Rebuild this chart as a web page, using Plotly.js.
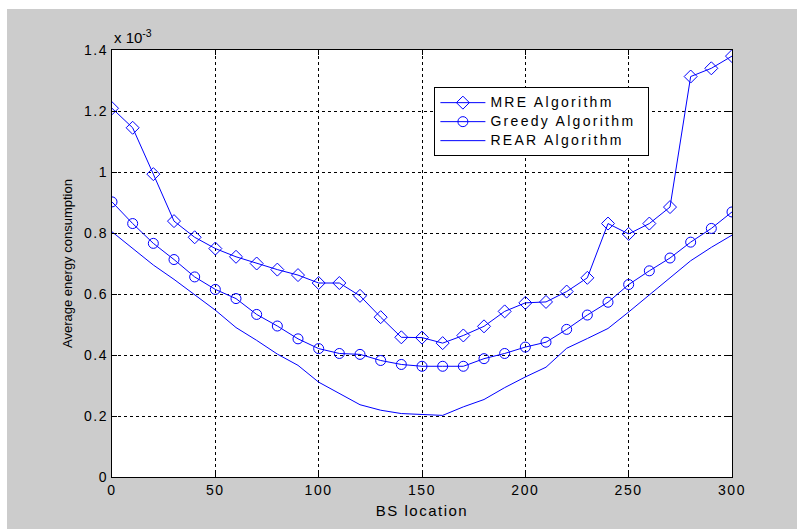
<!DOCTYPE html>
<html>
<head>
<meta charset="utf-8">
<script src="https://cdn.plot.ly/plotly-3.0.1.min.js"></script>
<style>
html,body{margin:0;padding:0;background:#ffffff;width:797px;height:529px;overflow:hidden;}
#chart{position:absolute;left:7px;top:9px;width:790px;height:520px;}
#chart .xtick text, #chart .ytick text{letter-spacing:1.6px;}
#chart .legendtext{letter-spacing:2.3px; font-size:14px !important;}
#chart .legend rect.bg{width:214px;}
#chart .legend .scrollbox{clip-path:none !important;}
#chart .xtitle{letter-spacing:1.5px;}
</style>
</head>
<body>
<div id="chart"></div>
<script>
const bsLocation = [0,10,20,30,40,50,60,70,80,90,100,110,120,130,140,150,160,170,180,190,200,210,220,230,240,250,260,270,280,290,300];
const mreValues = [1.209,1.145,0.993,0.839,0.786,0.749,0.722,0.700,0.680,0.662,0.636,0.636,0.594,0.524,0.458,0.457,0.439,0.464,0.494,0.543,0.571,0.574,0.608,0.653,0.831,0.797,0.831,0.885,1.313,1.340,1.380];
const greedyValues = [0.902,0.831,0.766,0.713,0.656,0.615,0.585,0.533,0.495,0.453,0.421,0.405,0.402,0.382,0.369,0.363,0.363,0.363,0.388,0.405,0.426,0.442,0.484,0.531,0.573,0.631,0.676,0.718,0.770,0.815,0.869];
const rearValues = [0.804,0.749,0.695,0.648,0.599,0.547,0.490,0.448,0.403,0.366,0.311,0.275,0.237,0.219,0.208,0.205,0.202,0.230,0.254,0.293,0.328,0.360,0.422,0.454,0.487,0.541,0.596,0.654,0.709,0.753,0.793];
const xTicks = [0,50,100,150,200,250,300];
const yTicks = [0,0.2,0.4,0.6,0.8,1.0,1.2,1.4];
const yTickLabels = ['0','0.2','0.4','0.6','0.8','1','1.2','1.4'];
const seriesNames = ['MRE Algorithm','Greedy Algorithm','REAR Algorithm'];

const fontFam = '"Liberation Sans", Arial, Helvetica, sans-serif';
const blue = '#0000ff';

const traces = [
  {x: bsLocation, y: mreValues, name: seriesNames[0], mode: 'lines+markers', type: 'scatter',
   line: {color: blue, width: 1}, marker: {symbol: 'diamond-open', size: 10, color: blue, line: {width: 1, color: blue}}},
  {x: bsLocation, y: greedyValues, name: seriesNames[1], mode: 'lines+markers', type: 'scatter',
   line: {color: blue, width: 1}, marker: {symbol: 'circle-open', size: 10, color: blue, line: {width: 1, color: blue}}},
  {x: bsLocation, y: rearValues, name: seriesNames[2], mode: 'lines', type: 'scatter',
   line: {color: blue, width: 1}}
];

const layout = {
  width: 790, height: 520,
  paper_bgcolor: '#cccccc',
  plot_bgcolor: '#ffffff',
  margin: {l: 105, r: 65, t: 41, b: 52, pad: 0},
  font: {family: fontFam, size: 14, color: '#000'},
  showlegend: true,
  legend: {
    x: 0.52, y: 0.913, xanchor: 'left', yanchor: 'top',
    bgcolor: '#ffffff', bordercolor: '#000', borderwidth: 1,
    font: {family: fontFam, size: 12, color: '#000'},
    tracegroupgap: 0, itemwidth: 45
  },
  xaxis: {
    range: [0, 300], tickvals: xTicks, ticktext: xTicks.map(String),
    showgrid: true, gridcolor: '#000', griddash: '3px,3px', gridwidth: 1,
    zeroline: false, showline: true, linecolor: '#000', linewidth: 1, mirror: 'ticks',
    ticks: 'inside', ticklen: 5, tickcolor: '#000',
    tickfont: {family: fontFam, size: 14, color: '#000'},
    title: {text: 'BS location', font: {family: fontFam, size: 15, color: '#000'}, standoff: 8}
  },
  yaxis: {
    range: [0, 1.4], tickvals: yTicks, ticktext: yTickLabels,
    showgrid: true, gridcolor: '#000', griddash: '3px,3px', gridwidth: 1,
    zeroline: false, showline: true, linecolor: '#000', linewidth: 1, mirror: 'ticks',
    ticks: 'inside', ticklen: 5, tickcolor: '#000',
    tickfont: {family: fontFam, size: 14, color: '#000'},
    title: {text: 'Average energy consumption', font: {family: fontFam, size: 13, color: '#000'}, standoff: 13}
  },
  annotations: [
    {text: 'x 10<sup>-3</sup>', xref: 'paper', yref: 'paper', x: 0, y: 1, xanchor: 'left', yanchor: 'bottom',
     yshift: 2, showarrow: false, font: {family: fontFam, size: 15, color: '#000'}}
  ]
};

Plotly.newPlot('chart', traces, layout, {displayModeBar: false, staticPlot: true});
</script>
</body>
</html>
